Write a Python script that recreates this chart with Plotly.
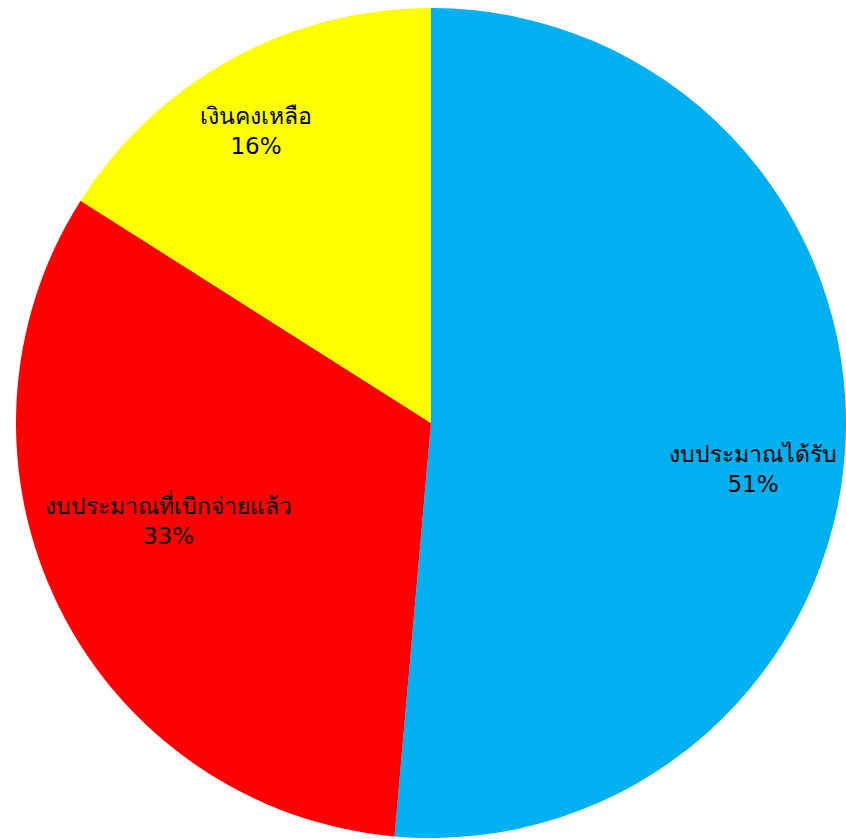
import math
import plotly.graph_objects as go

labels = ["งบประมาณได้รับ", "งบประมาณที่เบิกจ่ายแล้ว", "เงินคงเหลือ"]
values = [51.4, 32.6, 16.0]
colors = ["#00B0F0", "#FF0000", "#FFFF00"]

# label placement styling (radial fraction, angular nudge in degrees)
label_r = [0.783, 0.674, 0.819]
label_nudge = [5.7, 6.2, -2.1]

W, H = 846, 839
# pie domain in figure pixels
x0, x1 = 16, 846
ytop, ybot = 8, 838

fig = go.Figure(go.Pie(
    labels=labels,
    values=values,
    marker=dict(colors=colors, line=dict(width=0)),
    sort=False,
    direction="clockwise",
    rotation=0,
    textinfo="none",
    domain=dict(x=[x0 / W, x1 / W], y=[1 - ybot / H, 1 - ytop / H]),
    showlegend=False,
    hoverinfo="skip",
))

cx, cy = (x0 + x1) / 2, (ytop + ybot) / 2
R = min(x1 - x0, ybot - ytop) / 2
total = sum(values)
cum = 0
annotations = []
for lab, v, rf, nd in zip(labels, values, label_r, label_nudge):
    mid = (cum + v / 2) / total * 360 + nd
    cum += v
    a = math.radians(mid)
    px = cx + rf * R * math.sin(a)
    py = cy - rf * R * math.cos(a)
    annotations.append(dict(
        x=px / W, y=1 - py / H, xref="paper", yref="paper",
        text=f"{lab}<br>{v / total * 100:.0f}%",
        showarrow=False, xanchor="center", yanchor="middle",
        font=dict(family="DejaVu Sans, Noto Sans, sans-serif", size=23, color="black"),
    ))

fig.update_layout(
    width=W, height=H,
    margin=dict(l=0, r=0, t=0, b=0),
    paper_bgcolor="white",
    plot_bgcolor="white",
    annotations=annotations,
)
fig.write_html(
    "out.html",
    config={"displayModeBar": False},
    post_script="document.body.style.margin='0';document.body.style.overflow='hidden';",
)
